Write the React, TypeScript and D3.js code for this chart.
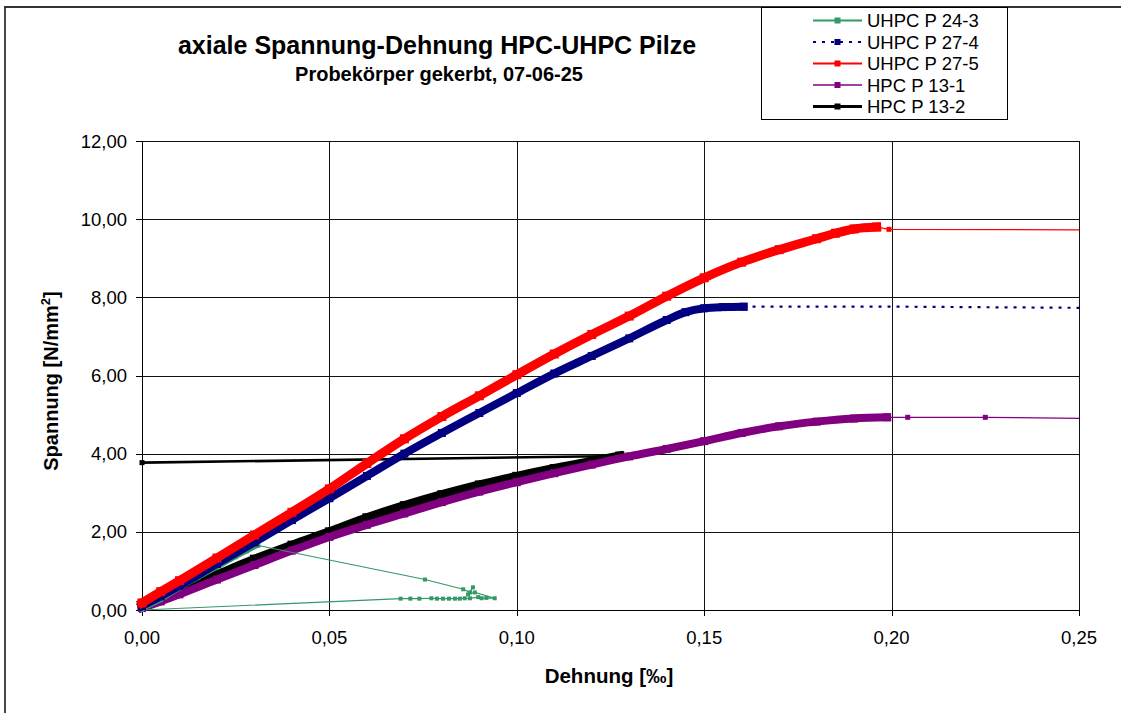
import React from "react";
import * as d3 from "d3";

type P = [number, number];

const xTicks = [0, 0.05, 0.1, 0.15, 0.2, 0.25];
const yTicks = [0, 2, 4, 6, 8, 10, 12];

// UHPC P 24-3 (green)
const uhpc24_3: P[] = [
  [0, 0.02], [0.005, 0.25], [0.01, 0.55], [0.015, 0.82], [0.02, 1.08], [0.025, 1.35], [0.028, 1.5], [0.031, 1.65],
  [0.0755, 0.78], [0.0857, 0.53], [0.0875, 0.45], [0.0883, 0.58], [0.087, 0.4], [0.0888, 0.45], [0.0941, 0.3],
  [0.0919, 0.31], [0.0906, 0.3], [0.0897, 0.33], [0.0875, 0.3], [0.0861, 0.3], [0.0848, 0.29], [0.0835, 0.29],
  [0.0819, 0.29], [0.0803, 0.29], [0.0787, 0.29], [0.0772, 0.3], [0.074, 0.29], [0.0716, 0.29], [0.069, 0.29], [0, 0],
];
// UHPC P 27-4 (blue, dotted)
const uhpc27_4: P[] = [
  [0, 0.1], [0.005, 0.35], [0.01, 0.62], [0.02, 1.18], [0.03, 1.73], [0.04, 2.3], [0.05, 2.86], [0.06, 3.43],
  [0.07, 4.0], [0.08, 4.53], [0.09, 5.04], [0.1, 5.55], [0.11, 6.05], [0.12, 6.5], [0.13, 6.95], [0.14, 7.42],
  [0.145, 7.62], [0.15, 7.72], [0.155, 7.75], [0.1605, 7.76], [0.2035, 7.76], [0.27, 7.72],
];
// UHPC P 27-5 (red)
const uhpc27_5: P[] = [
  [0, 0.18], [0.005, 0.47], [0.01, 0.75], [0.02, 1.33], [0.03, 1.92], [0.04, 2.5], [0.05, 3.1], [0.06, 3.75],
  [0.07, 4.38], [0.08, 4.95], [0.09, 5.48], [0.1, 6.02], [0.11, 6.55], [0.12, 7.05], [0.13, 7.52], [0.14, 8.03],
  [0.15, 8.5], [0.16, 8.9], [0.17, 9.22], [0.18, 9.5], [0.185, 9.64], [0.19, 9.75], [0.196, 9.8],
  [0.1993, 9.74], [0.27, 9.72],
];
// HPC P 13-1 (purple)
const hpc13_1: P[] = [
  [0, 0.05], [0.005, 0.22], [0.01, 0.4], [0.02, 0.78], [0.03, 1.15], [0.04, 1.52], [0.05, 1.87], [0.06, 2.18],
  [0.07, 2.47], [0.08, 2.76], [0.09, 3.03], [0.1, 3.27], [0.11, 3.5], [0.12, 3.72], [0.13, 3.93], [0.14, 4.12],
  [0.15, 4.32], [0.16, 4.53], [0.17, 4.7], [0.18, 4.82], [0.19, 4.9], [0.1988, 4.93], [0.2043, 4.93],
  [0.225, 4.93], [0.27, 4.88],
];
// HPC P 13-2 (black)
const hpc13_2: P[] = [
  [0, 0.1], [0.005, 0.3], [0.01, 0.5], [0.02, 0.9], [0.03, 1.3], [0.04, 1.66], [0.05, 2.0], [0.06, 2.36],
  [0.07, 2.67], [0.08, 2.95], [0.09, 3.2], [0.1, 3.42], [0.11, 3.62], [0.12, 3.8], [0.1275, 3.94], [0, 3.77],
];

const seriesNames = ["UHPC P 24-3", "UHPC P 27-4", "UHPC P 27-5", "HPC P 13-1", "HPC P 13-2"];

type S = {
  name: string; data: P[]; color: string; width: number; dash?: string;
  marker: number; denseEnd: number; denseWidth: number; legendWidth: number; tailMarkers: boolean;
};

const series: S[] = [
  { name: seriesNames[0], data: uhpc24_3, color: "#339966", width: 1.2, marker: 4, denseEnd: 7, denseWidth: 4, legendWidth: 2, tailMarkers: true },
  { name: seriesNames[1], data: uhpc27_4, color: "#000080", width: 2.2, dash: "3,6", marker: 5, denseEnd: 19, denseWidth: 8, legendWidth: 2.2, tailMarkers: false },
  { name: seriesNames[2], data: uhpc27_5, color: "#FF0000", width: 1.3, marker: 5, denseEnd: 22, denseWidth: 9, legendWidth: 2, tailMarkers: true },
  { name: seriesNames[3], data: hpc13_1, color: "#800080", width: 1.3, marker: 5, denseEnd: 21, denseWidth: 8, legendWidth: 1.5, tailMarkers: true },
  { name: seriesNames[4], data: hpc13_2, color: "#000000", width: 2.6, marker: 5, denseEnd: 14, denseWidth: 9, legendWidth: 3, tailMarkers: true },
];

const drawOrder = [4, 3, 0, 1, 2];

const W = 1121, H = 713;
const left = 142, right = 1079, top = 141, bottom = 610;
const FONT = "'Liberation Sans', Arial, sans-serif";

export default function App() {
  const x = d3.scaleLinear().domain([0, 0.25]).range([left, right]);
  const y = d3.scaleLinear().domain([0, 12]).range([bottom, top]);
  const line = d3.line<P>().x(d => x(d[0])).y(d => y(d[1]));
  const smooth = d3.line<P>().x(d => x(d[0])).y(d => y(d[1])).curve(d3.curveMonotoneX);
  const fmt = (v: number) => v.toFixed(2).replace(".", ",");

  return (
    <div style={{ position: "absolute", left: 0, top: 0 }}>
      <svg width={W} height={H} style={{ display: "block", background: "#fff" }} fontFamily={FONT}>
        <defs>
          <clipPath id="plotClip">
            <rect x={125} y={125} width={right - 125} height={500} />
          </clipPath>
        </defs>
        {/* outer frame */}
        <line x1={5} y1={6} x2={5} y2={H} stroke="#333" strokeWidth={1.8} />
        <line x1={4} y1={7} x2={W} y2={7} stroke="#333" strokeWidth={1.8} />

        {/* grid */}
        {yTicks.filter(t => t > 0).map(t => (
          <line key={"gy" + t} x1={left} x2={right} y1={Math.round(y(t)) + 0.5} y2={Math.round(y(t)) + 0.5} stroke="#111" strokeWidth={1} />
        ))}
        {xTicks.filter(t => t > 0).map(t => (
          <line key={"gx" + t} y1={top} y2={bottom} x1={Math.round(x(t)) + 0.5} x2={Math.round(x(t)) + 0.5} stroke="#111" strokeWidth={1} />
        ))}
        {/* axes */}
        <line x1={left + 0.5} x2={left + 0.5} y1={top} y2={bottom} stroke="#000" />
        <line x1={left} x2={right} y1={bottom + 0.5} y2={bottom + 0.5} stroke="#000" />
        {yTicks.map(t => (
          <g key={"ty" + t}>
            <line x1={left - 6} x2={left} y1={Math.round(y(t)) + 0.5} y2={Math.round(y(t)) + 0.5} stroke="#000" />
            <text x={127} y={y(t)} dy="0.36em" textAnchor="end" fontSize={18.5} fill="#000">{fmt(t)}</text>
          </g>
        ))}
        {xTicks.map(t => (
          <g key={"tx" + t}>
            <line x1={Math.round(x(t)) + 0.5} x2={Math.round(x(t)) + 0.5} y1={bottom} y2={bottom + 6} stroke="#000" />
            <text x={x(t)} y={644} textAnchor="middle" fontSize={18.5} fill="#000">{fmt(t)}</text>
          </g>
        ))}

        {/* series */}
        <g clipPath="url(#plotClip)">
          {drawOrder.map(i => {
            const s = series[i];
            const dense = s.data.slice(0, s.denseEnd + 1);
            const thin = s.data.slice(s.denseEnd);
            const tailPts = s.tailMarkers ? thin : thin.slice(0, 1);
            return (
              <g key={s.name}>
                <path d={line(thin) || ""} fill="none" stroke={s.color} strokeWidth={s.width} strokeDasharray={s.dash} />
                <path d={smooth(dense) || ""} fill="none" stroke={s.color} strokeWidth={s.denseWidth} strokeLinejoin="round" strokeLinecap="square" />
                {dense.map((d, k) => (
                  <rect key={"d" + k} x={x(d[0]) - s.denseWidth / 2} y={y(d[1]) - s.denseWidth / 2} width={s.denseWidth} height={s.denseWidth} fill={s.color} />
                ))}
                {tailPts.map((d, k) => (
                  <rect key={"t" + k} x={x(d[0]) - s.marker / 2} y={y(d[1]) - s.marker / 2} width={s.marker} height={s.marker} fill={s.color} />
                ))}
              </g>
            );
          })}
        </g>

        {/* titles */}
        <text x={437} y={54} textAnchor="middle" fontSize={25} fontWeight="bold" fill="#000">axiale Spannung-Dehnung HPC-UHPC Pilze</text>
        <text x={439} y={81} textAnchor="middle" fontSize={20} fontWeight="bold" fill="#000">Probekörper gekerbt, 07-06-25</text>
        <text x={609} y={683} textAnchor="middle" fontSize={20.5} fontWeight="bold" fill="#000">Dehnung [‰]</text>
        <text transform="translate(58,381) rotate(-90)" textAnchor="middle" fontSize={20} fontWeight="bold" fill="#000">
          Spannung [N/mm<tspan dy={-8} fontSize={13}>2</tspan><tspan dy={8}>]</tspan>
        </text>

        {/* legend */}
        <rect x={761.5} y={7.5} width={246} height={112} fill="#fff" stroke="#000" strokeWidth={1} />
        {series.map((s, i) => {
          const cy = 20.5 + i * 21.5;
          return (
            <g key={"lg" + i}>
              <line x1={813} x2={862} y1={cy} y2={cy} stroke={s.color} strokeWidth={s.legendWidth} strokeDasharray={s.dash} />
              <rect x={837.5 - 3} y={cy - 3} width={6} height={6} fill={s.color} />
              <text x={867} y={cy} dy="0.36em" fontSize={18.5} fill="#000">{s.name}</text>
            </g>
          );
        })}
      </svg>
    </div>
  );
}
